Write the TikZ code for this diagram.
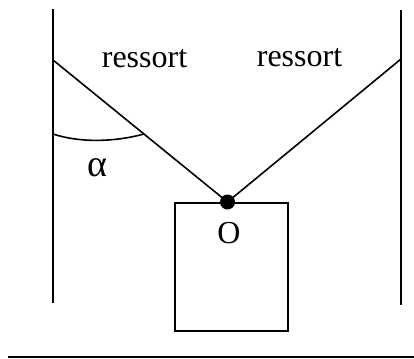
\documentclass[tikz,border=0pt]{standalone}
\usepackage{fontspec}
\setmainfont{Liberation Serif}
\tikzset{
  ln/.style={line width=1.6pt,black},
  lbl/.style={inner sep=0pt,anchor=base,font=\fontsize{32}{32}\selectfont},
}
\begin{document}
\begin{tikzpicture}[x=1pt,y=-1pt]
\useasboundingbox (0,0) rectangle (414,358);
\coordinate (wl1) at (53,9);
\coordinate (wl2) at (53,303);
\coordinate (wr1) at (401,10);
\coordinate (wr2) at (401,305);
\coordinate (sl) at (53,60);
\coordinate (sr) at (401,59);
\coordinate (a1) at (53,134);
\coordinate (a2) at (144,134);
\coordinate (g1) at (8,357);
\coordinate (g2) at (414,357);
\draw[ln] (wl1) -- (wl2);
\draw[ln] (wr1) -- (wr2);
\node[draw,ln,minimum width=113pt,minimum height=128pt,inner sep=0pt,outer sep=0pt] (box) at (231.5,267) {};
\node[circle,fill=black,minimum size=15pt,inner sep=0pt] (O) at (227.5,202) {};
\draw[ln] (sl) -- (O.center);
\draw[ln] (sr) -- (O.center);
\draw[ln] (a1) .. controls (80,143) and (115,142) .. (a2);
\draw[ln] (g1) -- (g2);
\node[lbl] (r1) at (144.5,68) {ressort};
\node[lbl] (r2) at (299.5,67) {ressort};
\node[lbl,font=\fontsize{38}{38}\selectfont] (al) at (97,176) {α};
\node[lbl] (ol) at (229,243) {O};
\end{tikzpicture}
\end{document}
